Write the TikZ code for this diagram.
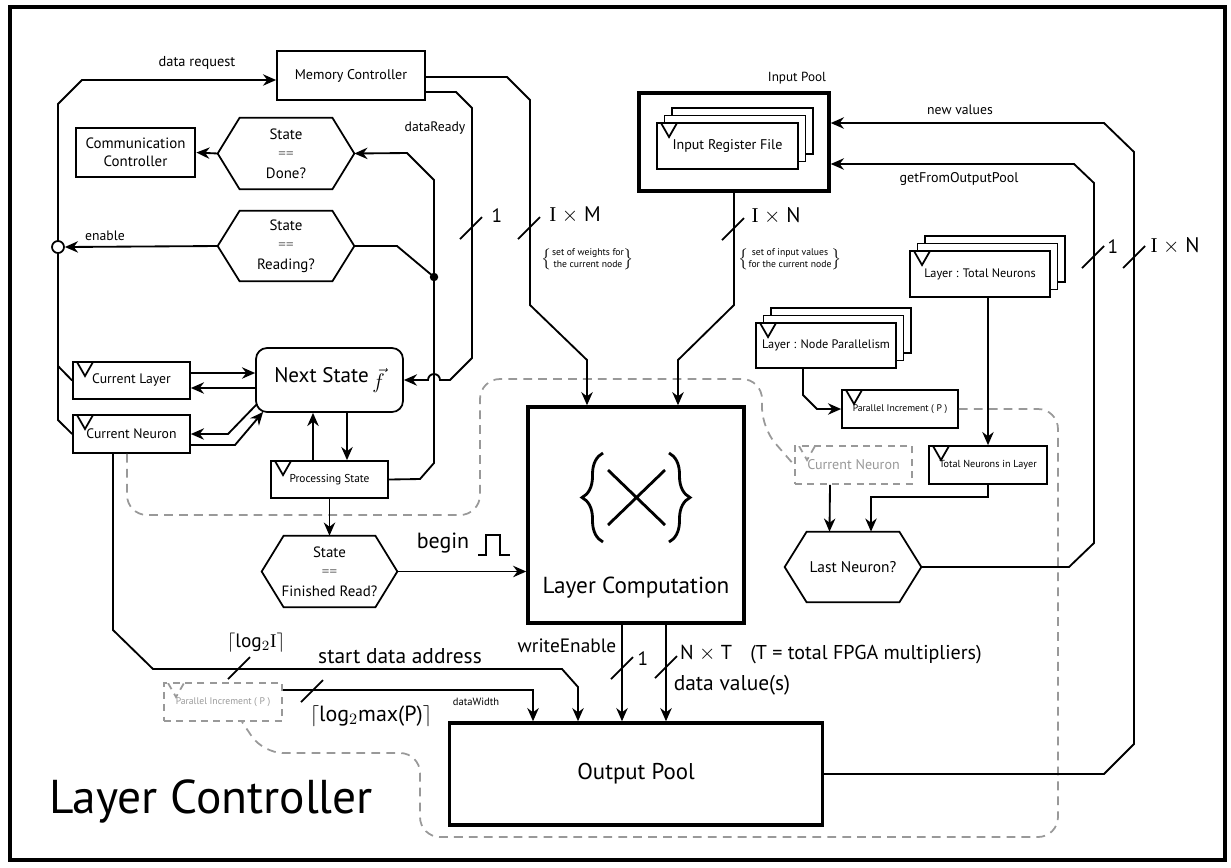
\documentclass[tikz,border=0pt]{standalone}
\usepackage{fontspec}
\setmainfont{PT Sans}
\newfontfamily\serifI{Liberation Serif}
\usetikzlibrary{arrows.meta,shadows,decorations.pathreplacing}
\newcommand\fs[2]{\fontsize{#1}{#2}\selectfont}
%hexagone autour d'un noeud : pointes sur west et east
\newcommand\hexframe[1]{\draw[line width=1pt] ([xshift=0.44cm]#1.north west) -- ([xshift=-0.44cm]#1.north east) -- (#1.east) -- ([xshift=-0.44cm]#1.south east) -- ([xshift=0.44cm]#1.south west) -- (#1.west) -- cycle;}
%barre oblique d'un bus
\newcommand\busmark[1]{\draw[line width=1pt] (#1) ++(-11,11) -- ++(22,-22);}
\newcommand\eq{\textcolor{black!55}{==}}
\begin{document}
\begin{tikzpicture}[x=0.02cm,y=-0.02cm,
	wire/.style={line width=1.05pt},
	ar/.style={-{Stealth[length=7.5pt,width=6.5pt]}},
	reg/.style={draw,line width=1pt,fill=white,inner sep=0pt,align=center},
	bigbox/.style={draw,line width=2pt,fill=white,inner sep=0pt,align=center},
	hexa/.style={inner sep=0pt,align=center},
	ghost/.style={draw=gray!80,dash pattern=on 4pt off 3pt,line width=1pt,text=gray!80,inner sep=0pt,align=center},
	refline/.style={gray!80,line width=1pt,dash pattern=on 5pt off 3.5pt,rounded corners=0.4cm},
	clk/.style={path picture={\draw[#1,line width=1pt] (path picture bounding box.north west) ++(4,0) -- ++(8,14) -- ++(8,-14);}},
	clk/.default=black,
	stack/.style={reg,
		copy shadow={shadow xshift=0.3cm,shadow yshift=0.3cm,fill=white,draw=black,line width=1pt},
		copy shadow={shadow xshift=0.15cm,shadow yshift=0.15cm,fill=white,draw=black,line width=1pt}},
]
\useasboundingbox (0,0) rectangle (1231,867);
\draw[line width=2.2pt] (10,7) rectangle (1225,860);

		%blocs de controle (gauche)
		\node (mem) at(351,75.5) [reg,minimum width=2.96cm,minimum height=0.98cm,font=\fs{8}{10}] {Memory Controller};
		\node (comm) at(135.5,152.5) [bigbox,line width=1.6pt,minimum width=2.38cm,minimum height=0.98cm,font=\fs{8.5}{10.5}] {Communication\\Controller};
		\node (done) at(286,153.5) [hexa,minimum width=2.72cm,minimum height=1.42cm,font=\fs{8.5}{11}] {State\\\eq\\Done?};
		\node (reading) at(286,246) [hexa,minimum width=2.72cm,minimum height=1.4cm,font=\fs{8.5}{11}] {State\\\eq\\Reading?};
		\node (junction) at(434,277) [circle,fill,inner sep=0pt,minimum size=0.17cm] {};
		\node (next state) at(329.5,380) [draw,line width=1pt,rounded corners=0.22cm,minimum width=2.94cm,minimum height=1.28cm,font=\fs{12}{13}] {Next State\,\raisebox{-0.6ex}{$\vec{f}$}};
		\node (cur layer) at(131.5,380.5) [reg,clk,minimum width=2.34cm,minimum height=0.74cm,font=\fs{7.8}{9}] {\raisebox{-2pt}{Current Layer}};
		\node (cur neuron) at(131.5,434) [reg,clk,minimum width=2.34cm,minimum height=0.76cm,font=\fs{7.8}{9}] {\raisebox{-2pt}{Current Neuron}};
		\node (proc state) at(329.5,479.5) [reg,clk,minimum width=2.34cm,minimum height=0.74cm,font=\fs{6.5}{8}] {Processing State};
		\node (finished) at(329.5,571.5) [hexa,minimum width=2.7cm,minimum height=1.42cm,font=\fs{8.5}{11}] {State\\\eq\\Finished Read?};

		%calcul et pools
		\node (layer comp) at(636,515) [bigbox,minimum width=4.32cm,minimum height=4.32cm] {};
		\node (lc text) at(636,588) [font=\fs{13.2}{15}] {Layer Computation};
		\node (output pool) at(636,774) [bigbox,minimum width=7.46cm,minimum height=2.04cm,font=\fs{13}{15}] {Output Pool};
		\node (input pool) at(734,142) [bigbox,minimum width=3.8cm,minimum height=1.96cm] {};
		\node (input pool lbl) at(797,78) [font=\fs{7.5}{9}] {Input Pool};
		\node (input reg) at(727.5,146) [stack,clk,minimum width=2.82cm,minimum height=0.92cm,font=\fs{8}{9}] {Input Register File};

		%compteur de neurones (droite)
		\node (total neurons) at(980,274) [stack,clk,minimum width=2.8cm,minimum height=0.92cm,font=\fs{7}{8}] {Layer : Total Neurons};
		\node (node par) at(826,345.5) [stack,clk,minimum width=2.8cm,minimum height=0.9cm,font=\fs{7}{8}] {Layer : Node Parallelism};
		\node (par inc) at(900,409) [reg,clk,minimum width=2.32cm,minimum height=0.76cm,font=\fs{5.5}{7}] {Parallel Increment ( P )};
		\node (ghost cn) at(853.5,465) [ghost,clk=gray!80,minimum width=2.34cm,minimum height=0.76cm,font=\fs{8}{9}] {Current Neuron};
		\node (total in layer) at(988,465) [reg,clk,minimum width=2.36cm,minimum height=0.76cm,font=\fs{5.8}{7}] {Total Neurons in Layer};
		\node (last neuron) at(853,567) [hexa,minimum width=2.72cm,minimum height=1.4cm,font=\fs{8.8}{10}] {Last Neuron?};
		\node (ghost pi) at(223,702) [ghost,clk=gray!80,minimum width=2.36cm,minimum height=0.76cm,font=\fs{5.5}{7}] {Parallel Increment ( P )};
		\node (title) at(211,801) [font=\fs{27}{30}] {Layer Controller};

		\hexframe{done}
		\hexframe{reading}
		\hexframe{finished}
		\hexframe{last neuron}

		%symbole {X}
		\draw[line width=1.6pt,decorate,decoration={brace,amplitude=0.42cm}] (603,542) -- (603,453);
		\draw[line width=1.6pt,decorate,decoration={brace,amplitude=0.42cm}] (669,453) -- (669,542);
		\draw[line width=1.6pt] (608,470) -- (665,525) (608,525) -- (665,470);

		%liens pointilles (meme registre)
		\draw[refline] ([xshift=-0.09cm]cur neuron.south) -- (127,515) -- (480,515) -- (480,379) -- (762,379) -- (762,428) -- (ghost cn.west);
		\draw[refline] (par inc.east) -- (1058,409) -- (1058,837) -- (420,837) -- (420,753) -- (263,753) -- ([xshift=0.38cm]ghost pi.south);

		%connexions
		\draw[wire,ar] (cur neuron.west) -- (58,420) -- (58,104) -- (82,80) -- ([yshift=-0.09cm]mem.west);
		\draw[wire] (58,366) -- (cur layer.west);
		\node (inv) at(58,247) [circle,draw,fill=white,line width=1pt,inner sep=0pt,minimum size=0.24cm] {};
		\draw[wire,ar] (reading.west) -- (inv.east);
		\draw[wire,ar] (done.west) -- (comm.east);
		\draw[wire,ar] ([yshift=-0.33cm]mem.east) -- (456,92) -- (472,108) -- (472,358) -- (450,380) -- (440,380) arc[start angle=0,end angle=-180,radius=6] -- (next state.east);
		\draw[wire,ar] ([yshift=-0.03cm]mem.east) -- (507,77) -- (530,100) -- (530,305) -- (587,360) -- ([xshift=-0.98cm]layer comp.north);
		\draw[wire,ar] (input pool.south) -- (734,305) -- (678,360) -- ([xshift=0.84cm]layer comp.north);
		\draw[wire,ar] (proc state.east) -- (420,479) -- (434,463) -- (434,180) -- (407,153) -- (done.east);
		\draw[wire] (junction.center) -- (397,246) -- (reading.east);
		\draw[wire,ar] ([xshift=-0.33cm]proc state.north) -- ([xshift=-0.33cm]next state.south);
		\draw[wire,ar] ([xshift=0.35cm]next state.south) -- ([xshift=0.35cm]proc state.north);
		\draw[wire,ar] (proc state.south) -- (finished.north);
		\draw[wire,ar] ([yshift=0.15cm]cur layer.east) -- ([yshift=0.14cm]next state.west);
		\draw[wire,ar] ([yshift=-0.16cm]next state.west) -- ([yshift=-0.15cm]cur layer.east);
		\draw[wire,ar] ([shift={(0.04cm,0.18cm)}]next state.south west) -- (228,434) -- (cur neuron.east);
		\draw[wire,ar] ([yshift=-0.22cm]cur neuron.east) -- (235,445) -- ([shift={(0.16cm,0.02cm)}]next state.south west);
		\draw[wire,ar] (finished.east) -- (finished.east -| layer comp.west);
		\draw[wire] (478,555) -- (486,555) -- (486,535) -- (500,535) -- (500,555) -- (510,555);
		\draw[wire,ar] ([xshift=-0.37cm]cur neuron.south) -- (113,630) -- (153,669) -- (562,669) -- (578,687) -- ([xshift=-1.16cm]output pool.north);
		\draw[wire,ar] ([yshift=0.24cm]ghost pi.east) -- (533,690) -- ([xshift=-2.06cm]output pool.north);
		\draw[wire,ar] ([xshift=-0.28cm]layer comp.south) -- ([xshift=-0.28cm]output pool.north);
		\draw[wire,ar] ([xshift=0.6cm]layer comp.south) -- ([xshift=0.6cm]output pool.north);
		\draw[wire,ar] (output pool.east) -- (1104,774) -- (1134,744) -- (1134,152) -- (1104,123) -- ([yshift=0.38cm]input pool.east);
		\draw[wire,ar] (last neuron.east) -- (1069,567) -- (1094,543) -- (1094,183) -- (1074,164) -- ([yshift=-0.44cm]input pool.east);
		\draw[wire,ar] (total neurons.south -| total in layer.north) -- (total in layer.north);
		\draw[wire,ar] (total in layer.south) -- (988,497) -- (871,497) -- ([xshift=0.36cm]last neuron.north);
		\draw[wire,ar] ([xshift=-0.47cm]ghost cn.south) -- ([xshift=-0.47cm]last neuron.north);
		\draw[wire,ar] ([xshift=-0.46cm]node par.south) -- (803,395) -- (817,409) -- (par inc.west);

		%largeurs de bus
		\busmark{471,228}
		\busmark{529,228}
		\busmark{733,229}
		\busmark{1093,257}
		\busmark{1134,257}
		\busmark{239,668}
		\busmark{312,691}
		\busmark{622,668}
		\busmark{666,667}

		%etiquettes
		\node (lbl req) at(197,63) [font=\fs{8.2}{9}] {data request};
		\node (lbl enable) at(105,236) [font=\fs{7.8}{9}] {enable};
		\node (lbl ready) at(435,128) [font=\fs{7.8}{9}] {dataReady};
		\node (lbl new) at(960,110) [font=\fs{7.8}{9}] {new values};
		\node (lbl get) at(959,179) [font=\fs{8}{9}] {getFromOutputPool};
		\node (bw ready) at(497,216) [font=\fs{11}{12}] {1};
		\node (bw im) at(575,215) [font=\fs{12}{13}] {{\serifI I} $\times$ M};
		\node (bw in) at(776,216) [font=\fs{12}{13}] {{\serifI I} $\times$ N};
		\node (bw get) at(1113,247) [font=\fs{11}{12}] {1};
		\node (bw new) at(1175,246) [font=\fs{12}{13}] {{\serifI I} $\times$ N};
		\node (note w) at(588,259) [font=\fs{5.5}{6.5}] {$\left\{\begin{tabular}{@{}c@{}}set of weights for\\the current node\end{tabular}\right\}$};
		\node (note i) at(790,259) [font=\fs{5.5}{6.5}] {$\left\{\begin{tabular}{@{}c@{}}set of input values\\for the current node\end{tabular}\right\}$};
		\node (lbl begin) at(443,543) [font=\fs{12.5}{14}] {begin};
		\node (bw log i) at(256,643) [font=\fs{11}{12}] {$\left\lceil\mbox{log$_2${\serifI I}}\right\rceil$};
		\node (lbl sda) at(400,656) [font=\fs{12.2}{14}] {start data address};
		\node (bw log p) at(371,716) [font=\fs{12.5}{14}] {$\left\lceil\mbox{log$_2$max(P)}\right\rceil$};
		\node (lbl dw) at(476,702) [font=\fs{6}{7}] {dataWidth};
		\node (lbl we) at(567,646) [font=\fs{11}{12}] {writeEnable};
		\node (bw we) at(643,659) [font=\fs{11}{12}] {1};
		\node (bw nt) at(706,653) [font=\fs{11.5}{13}] {N $\times$ T};
		\node (lbl t) at(866,655) [font=\fs{11.4}{13}] {(T = total FPGA multipliers)};
		\node (lbl dv) at(732,685) [font=\fs{12.2}{14}] {data value(s)};
\end{tikzpicture}
\end{document}
